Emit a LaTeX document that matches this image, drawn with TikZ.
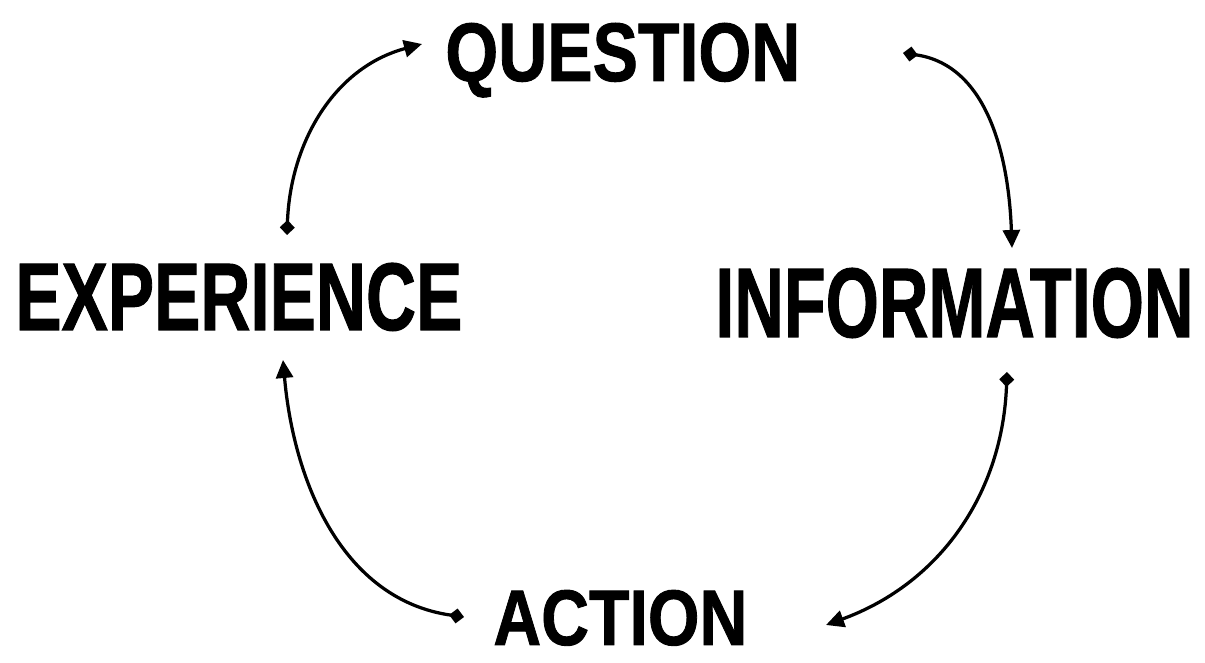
\documentclass[tikz,border=0pt]{standalone}
\usepackage{fontspec}
\setmainfont{Liberation Sans}[BoldFeatures={FakeBold=1.2}]
\usepackage{graphicx}
\usetikzlibrary{arrows.meta}

% palabra en negrita ajustada a ancho y alto
\newcommand{\palabra}[3]{\resizebox{#1}{#2}{\bfseries #3}}

\tikzset{
  etapa/.style={inner sep=0pt, anchor=base west},
  ciclo/.style={line width=0.065cm,
    {Turned Square[length=0.3cm,width=0.3cm]}-{Triangle[length=0.36cm,width=0.34cm]}}
}

\begin{document}
\begin{tikzpicture}[x=0.02cm, y=0.02cm]
  \useasboundingbox (0,0) rectangle (1205,663);

  % Etapas del ciclo
  \node[etapa] (question) at (445,582) {\palabra{7.1cm}{1.16cm}{QUESTION}};
  \node[etapa] (information) at (715,326) {\palabra{9.56cm}{1.38cm}{INFORMATION}};
  \node[etapa] (action) at (493,18) {\palabra{5.08cm}{1.1cm}{ACTION}};
  \node[etapa] (experience) at (15,333) {\palabra{8.94cm}{1.34cm}{EXPERIENCE}};

  % Extremos de las flechas
  \coordinate (q-sal) at (903,610);
  \coordinate (i-ent) at (1012,415);
  \coordinate (i-sal) at (1007,291);
  \coordinate (a-ent) at (826,38);
  \coordinate (a-sal) at (464,46);
  \coordinate (e-ent) at (283,303);
  \coordinate (e-sal) at (287,428);
  \coordinate (q-ent) at (422,619);

  % Flechas del ciclo
  \draw[ciclo] (q-sal) to[out=-8, in=92] (i-ent);
  \draw[ciclo] (i-sal) to[out=-92, in=20] (a-ent);
  \draw[ciclo] (a-sal) to[out=172, in=-85] (e-ent);
  \draw[ciclo] (e-sal) to[out=88, in=195] (q-ent);
\end{tikzpicture}
\end{document}
